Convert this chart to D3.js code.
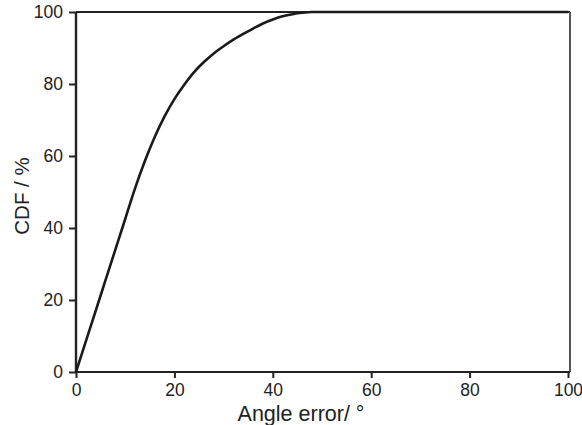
<!DOCTYPE html>
<html>
<head>
<meta charset="utf-8">
<script src="https://cdn.jsdelivr.net/npm/d3@7"></script>
<style>
  html, body { margin: 0; padding: 0; background: #fff; }
  svg { display: block; }
  text { font-family: "Liberation Sans", Arial, sans-serif; fill: #222; }
</style>
</head>
<body>
<svg id="chart" width="582" height="425"></svg>
<script>
// Cumulative distribution of the angle error
const angleDeg = [0, 2, 4, 6, 8, 10, 12, 14, 16, 18, 20, 22, 24, 26, 28, 30, 32, 34, 36, 38, 40, 42, 44, 46, 48, 50, 60, 70, 80, 90, 100];
const cdfPct   = [0, 8.5, 17, 25.5, 34, 42.5, 51, 58.6, 65.3, 71.0, 75.8, 79.8, 83.3, 86.1, 88.5, 90.5, 92.3, 93.9, 95.4, 96.8, 97.9, 98.8, 99.4, 99.8, 100, 100, 100, 100, 100, 100, 100];
const xTicks = [0, 20, 40, 60, 80, 100];
const yTicks = [0, 20, 40, 60, 80, 100];

const svg = d3.select("#chart");
const plotLeft = 76, plotRight = 568, plotTop = 12, plotBottom = 372;

const x = d3.scaleLinear().domain([0, 100]).range([plotLeft, plotRight]);
const y = d3.scaleLinear().domain([0, 100]).range([plotBottom, plotTop]);

// frame: top and right edges
svg.append("line").attr("x1", plotLeft).attr("x2", plotRight + 2).attr("y1", plotTop).attr("y2", plotTop)
  .attr("stroke", "#222").attr("stroke-width", 2.2);
svg.append("line").attr("x1", plotRight + 2).attr("x2", plotRight + 2).attr("y1", plotTop).attr("y2", plotBottom)
  .attr("stroke", "#555").attr("stroke-width", 2);

// bottom axis
const gx = svg.append("g").attr("transform", `translate(0,${plotBottom})`)
  .call(d3.axisBottom(x).tickValues(xTicks).tickSize(6).tickPadding(6).tickFormat(d3.format("d")));
gx.select(".domain").attr("stroke", "#222").attr("stroke-width", 2)
  .attr("d", `M${plotLeft},0H${plotRight + 2}`);
gx.selectAll(".tick line").attr("stroke", "#222").attr("stroke-width", 2);
gx.selectAll(".tick text").attr("font-size", 17.5).attr("fill", "#222");

// left axis
const gy = svg.append("g").attr("transform", `translate(${plotLeft},0)`)
  .call(d3.axisLeft(y).tickValues(yTicks).tickSize(7).tickPadding(6).tickFormat(d3.format("d")));
gy.select(".domain").attr("stroke", "#222").attr("stroke-width", 2.4)
  .attr("d", `M0,${plotBottom}V${plotTop}`);
gy.selectAll(".tick line").attr("stroke", "#222").attr("stroke-width", 2);
gy.selectAll(".tick text").attr("font-size", 17.5).attr("fill", "#222");

// CDF curve
const line = d3.line().x((d, i) => x(angleDeg[i])).y(d => y(d)).curve(d3.curveMonotoneX);
svg.append("path").datum(cdfPct).attr("d", line)
  .attr("fill", "none").attr("stroke", "#1a1a1a").attr("stroke-width", 2.6)
  .attr("stroke-linejoin", "round");

// axis titles
svg.append("text").attr("x", 301).attr("y", 420.5)
  .attr("text-anchor", "middle").attr("font-size", 21.5).text("Angle error/ °");
svg.append("text").attr("transform", `translate(29,196) rotate(-90)`)
  .attr("text-anchor", "middle").attr("font-size", 20.5).text("CDF / %");
</script>
</body>
</html>
